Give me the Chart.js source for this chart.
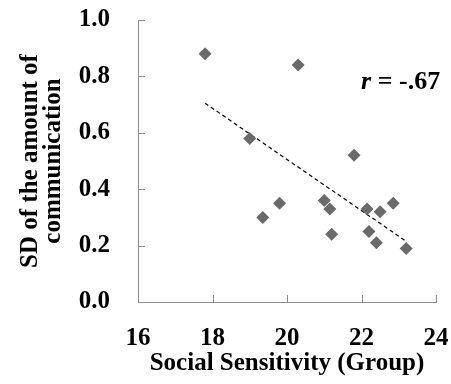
<!DOCTYPE html>
<html>
<head>
<meta charset="utf-8">
<script src="https://cdn.jsdelivr.net/npm/chart.js@4"></script>
<style>
html,body{margin:0;padding:0;background:#fff;}
#wrap{width:451px;height:384px;position:relative;}
</style>
</head>
<body>
<div id="wrap"><canvas id="c" width="451" height="384"></canvas></div>
<script>
const sensitivity = [17.8, 20.3, 19.0, 21.8, 19.35, 19.8, 21.0, 21.15, 21.2, 22.15, 22.5, 22.85, 22.2, 22.4, 23.2];
const sdComm     = [0.88, 0.84, 0.58, 0.52, 0.30, 0.35, 0.36, 0.33, 0.24, 0.33, 0.32, 0.35, 0.25, 0.21, 0.19];
const trendX = [17.8, 23.18];
const trendY = [0.705, 0.217];
const xTicks = [16, 18, 20, 22, 24];
const yTicks = [0.0, 0.2, 0.4, 0.6, 0.8, 1.0];
const rLabel = 'r = -.67';

const serif = '"Liberation Serif", "Times New Roman", serif';
const axisGrey = '#8c8c8c';

const innerTicks = {
  id: 'innerTicks',
  afterDraw(chart) {
    const ctx = chart.ctx, a = chart.chartArea;
    const xs = chart.scales.x, ys = chart.scales.y;
    ctx.save();
    ctx.strokeStyle = axisGrey;
    ctx.lineWidth = 1;
    ctx.beginPath();
    xTicks.forEach(v => { const p = Math.round(xs.getPixelForValue(v)) + 0.5; ctx.moveTo(p, a.bottom); ctx.lineTo(p, a.bottom - 7); });
    yTicks.forEach(v => { const p = Math.round(ys.getPixelForValue(v)) + 0.5; ctx.moveTo(a.left, p); ctx.lineTo(a.left + 7, p); });
    ctx.stroke();
    const px = xs.getPixelForValue(23.05), py = ys.getPixelForValue(0.78);
    ctx.fillStyle = '#000';
    ctx.textBaseline = 'middle';
    ctx.font = 'italic bold 26px ' + serif;
    const rW = ctx.measureText('r').width;
    ctx.font = 'bold 26px ' + serif;
    const rest = rLabel.slice(1);
    const restW = ctx.measureText(rest).width;
    let x0 = px - (rW + restW) / 2;
    ctx.font = 'italic bold 26px ' + serif;
    ctx.textAlign = 'left';
    ctx.fillText('r', x0, py);
    ctx.font = 'bold 26px ' + serif;
    ctx.fillText(rest, x0 + rW, py);
    ctx.restore();
  }
};

new Chart(document.getElementById('c'), {
  data: {
    datasets: [
      {
        type: 'scatter',
        data: sensitivity.map((x, i) => ({x: x, y: sdComm[i]})),
        pointStyle: 'rectRot',
        pointRadius: 6.5,
        pointHoverRadius: 6.5,
        backgroundColor: '#6a6a6a',
        borderColor: '#6a6a6a',
        borderWidth: 0,
        order: 1
      },
      {
        type: 'line',
        data: trendX.map((x, i) => ({x: x, y: trendY[i]})),
        borderColor: '#000',
        borderWidth: 1.2,
        borderDash: [4, 3],
        pointRadius: 0,
        fill: false,
        order: 2
      }
    ]
  },
  options: {
    responsive: false,
    animation: false,
    events: [],
    layout: {padding: {left: 0, right: 15, top: 20, bottom: 0}},
    plugins: {legend: {display: false}, tooltip: {enabled: false}},
    scales: {
      x: {
        type: 'linear', min: 16, max: 24,
        afterBuildTicks: s => { s.ticks = xTicks.map(v => ({value: v})); },
        grid: {display: true, drawOnChartArea: false, drawTicks: false},
        border: {display: true, color: axisGrey, width: 1},
        ticks: {padding: 22, color: '#000', font: {family: serif, size: 25, weight: 'bold'}, maxRotation: 0},
        title: {display: true, text: 'Social Sensitivity (Group)', color: '#000', font: {family: serif, size: 25, weight: 'bold'}, padding: {top: 0, bottom: 5}},
        afterFit: s => { s.height = 82; s.paddingLeft = 0; s.paddingRight = 0; }
      },
      y: {
        type: 'linear', min: 0, max: 1,
        afterBuildTicks: s => { s.ticks = yTicks.map(v => ({value: v})); },
        grid: {display: true, drawOnChartArea: false, drawTicks: false},
        border: {display: true, color: axisGrey, width: 1},
        ticks: {padding: 28, color: '#000', font: {family: serif, size: 25, weight: 'bold'}, callback: v => v.toFixed(1)},
        title: {display: true, text: ['SD of the amount of', 'communication'], color: '#000', font: {family: serif, size: 25, weight: 'bold', lineHeight: 0.92}, padding: {top: 19, bottom: 0}},
        afterFit: s => { s.width = 138; s.paddingTop = 0; s.paddingBottom = 0; }
      }
    }
  },
  plugins: [innerTicks]
});
</script>
</body>
</html>
